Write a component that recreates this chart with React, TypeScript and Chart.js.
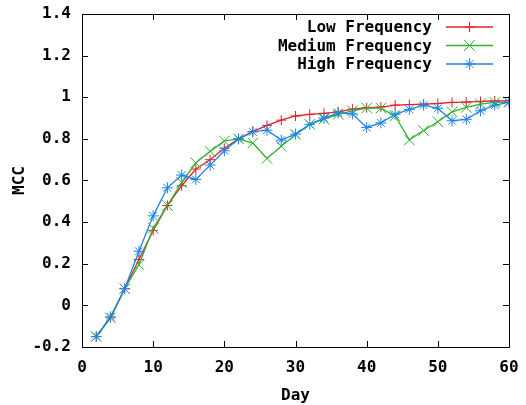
import React, { useEffect, useRef } from "react";
import { Chart, registerables } from "chart.js";

Chart.register(...registerables);

const days = [2, 4, 6, 8, 10, 12, 14, 16, 18, 20, 22, 24, 26, 28, 30, 32, 34, 36, 38, 40, 42, 44, 46, 48, 50, 52, 54, 56, 58, 60];

const lowFreq = [-0.15, -0.06, 0.08, 0.22, 0.36, 0.48, 0.575, 0.655, 0.7, 0.755, 0.8, 0.835, 0.865, 0.89, 0.91, 0.918, 0.923, 0.93, 0.943, 0.95, 0.953, 0.962, 0.965, 0.967, 0.97, 0.975, 0.977, 0.98, 0.982, 0.983];

const mediumFreq = [-0.15, -0.06, 0.08, 0.195, 0.37, 0.48, 0.59, 0.685, 0.74, 0.79, 0.8, 0.78, 0.706, 0.765, 0.82, 0.87, 0.895, 0.918, 0.935, 0.948, 0.948, 0.91, 0.795, 0.84, 0.882, 0.93, 0.951, 0.967, 0.975, 0.977];

const highFreq = [-0.15, -0.055, 0.08, 0.26, 0.43, 0.565, 0.626, 0.605, 0.674, 0.743, 0.8, 0.834, 0.842, 0.794, 0.823, 0.87, 0.9, 0.925, 0.92, 0.855, 0.877, 0.918, 0.942, 0.962, 0.947, 0.887, 0.894, 0.935, 0.962, 0.975];

const seriesNames = ["Low Frequency", "Medium Frequency", "High Frequency"];
const xTicks = [0, 10, 20, 30, 40, 50, 60];
const yTicks = [-0.2, 0, 0.2, 0.4, 0.6, 0.8, 1, 1.2, 1.4];

const COLORS = ["#e2202a", "#2fb22f", "#1f84e4"];
const STYLES = ["cross", "crossRot", "star"];
const RADII = [5, 7.5, 5.5];
const FONT = "DejaVu Sans Mono";

function drawMarker(ctx: CanvasRenderingContext2D, style: string, x: number, y: number, r: number) {
  ctx.beginPath();
  if (style === "cross" || style === "star") {
    ctx.moveTo(x - r, y);
    ctx.lineTo(x + r, y);
    ctx.moveTo(x, y - r);
    ctx.lineTo(x, y + r);
  }
  if (style === "crossRot" || style === "star") {
    const d = r * Math.SQRT1_2;
    ctx.moveTo(x - d, y - d);
    ctx.lineTo(x + d, y + d);
    ctx.moveTo(x - d, y + d);
    ctx.lineTo(x + d, y - d);
  }
  ctx.stroke();
}

const framePlugin = {
  id: "gnuFrame",
  afterDraw(chart: any) {
    const { ctx, chartArea } = chart;
    const { left, right, top, bottom } = chartArea;
    const xs = chart.scales.x;
    const ys = chart.scales.y;
    ctx.save();
    ctx.strokeStyle = "#000";
    ctx.lineWidth = 1;
    ctx.beginPath();
    ctx.rect(Math.round(left) + 0.5, Math.round(top) + 0.5, Math.round(right - left), Math.round(bottom - top));
    ctx.stroke();
    const tl = 6;
    ctx.beginPath();
    xTicks.forEach((v) => {
      const px = Math.round(xs.getPixelForValue(v)) + 0.5;
      ctx.moveTo(px, bottom);
      ctx.lineTo(px, bottom - tl);
      ctx.moveTo(px, top);
      ctx.lineTo(px, top + tl);
    });
    yTicks.forEach((v) => {
      const py = Math.round(ys.getPixelForValue(v)) + 0.5;
      ctx.moveTo(left, py);
      ctx.lineTo(left + tl, py);
      ctx.moveTo(right, py);
      ctx.lineTo(right - tl, py);
    });
    ctx.stroke();

    // legend (gnuplot style, top right inside)
    const textRight = right - 77;
    const lineL = right - 63;
    const lineR = right - 16;
    ctx.font = `bold 16px "${FONT}"`;
    ctx.textAlign = "right";
    ctx.textBaseline = "middle";
    seriesNames.forEach((name, i) => {
      const y = top + 13 + i * 18.5;
      ctx.fillStyle = "#000";
      ctx.fillText(name, textRight, y + 1);
      ctx.strokeStyle = COLORS[i];
      ctx.lineWidth = 1.3;
      ctx.beginPath();
      ctx.moveTo(lineL, y);
      ctx.lineTo(lineR, y);
      ctx.stroke();
      ctx.lineWidth = 1;
      drawMarker(ctx, STYLES[i], (lineL + lineR) / 2, y, RADII[i]);
    });
    ctx.restore();
  },
};

function zeroPadding(s: any) {
  s.paddingTop = 0;
  s.paddingBottom = 0;
  s.paddingLeft = 0;
  s.paddingRight = 0;
}

export default function App() {
  const ref = useRef<HTMLCanvasElement | null>(null);
  useEffect(() => {
    document.body.style.margin = "0";
    const canvas = ref.current;
    if (!canvas) return;
    const seriesList = [lowFreq, mediumFreq, highFreq];
    const chart = new Chart(canvas, {
      type: "line",
      data: {
        datasets: seriesList.map((s, i) => ({
          label: seriesNames[i],
          data: days.map((d, j) => ({ x: d, y: s[j] })),
          borderColor: COLORS[i],
          backgroundColor: COLORS[i],
          borderWidth: 1.3,
          pointStyle: STYLES[i] as any,
          pointRadius: RADII[i],
          pointBorderWidth: 1,
          pointBorderColor: COLORS[i],
          pointBackgroundColor: COLORS[i],
          fill: false,
          tension: 0,
          order: 2 - i,
        })),
      },
      options: {
        animation: false,
        responsive: false,
        maintainAspectRatio: false,
        layout: { padding: { left: 0, right: 17, top: 14, bottom: 0 } },
        plugins: {
          legend: { display: false },
          tooltip: { enabled: false },
        },
        scales: {
          x: {
            type: "linear",
            min: 0,
            max: 60,
            afterFit: (s: any) => {
              s.height = 58;
              zeroPadding(s);
            },
            afterBuildTicks: (s: any) => {
              s.ticks = xTicks.map((v) => ({ value: v }));
            },
            grid: { display: false, drawTicks: false },
            border: { display: false },
            ticks: {
              padding: 11,
              maxRotation: 0,
              autoSkip: false,
              color: "#000",
              font: { family: FONT, size: 16, weight: "bold" },
              callback: (v: any) => String(v),
            },
            title: {
              display: true,
              text: "Day",
              color: "#000",
              padding: { top: 0, bottom: 0 },
              font: { family: FONT, size: 16, weight: "bold" },
            },
          },
          y: {
            type: "linear",
            min: -0.2,
            max: 1.4,
            afterFit: (s: any) => {
              s.width = 82;
              zeroPadding(s);
            },
            afterBuildTicks: (s: any) => {
              s.ticks = yTicks.map((v) => ({ value: v }));
            },
            grid: { display: false, drawTicks: false },
            border: { display: false },
            ticks: {
              padding: 11,
              autoSkip: false,
              color: "#000",
              font: { family: FONT, size: 16, weight: "bold" },
              callback: (v: any) => String(Number(Number(v).toFixed(1))),
            },
            title: {
              display: true,
              text: "MCC",
              color: "#000",
              padding: { top: 10, bottom: 0 },
              font: { family: FONT, size: 16, weight: "bold" },
            },
          },
        },
      },
      plugins: [framePlugin],
    });
    return () => chart.destroy();
  }, []);
  return <canvas ref={ref} width={526} height={405} style={{ display: "block" }} />;
}
